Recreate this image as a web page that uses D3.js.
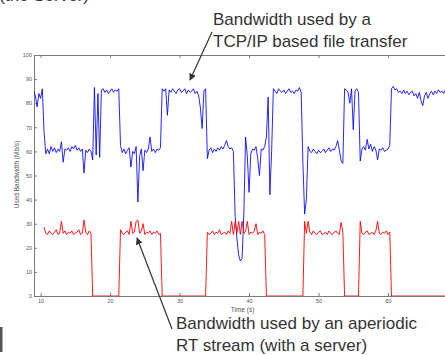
<!DOCTYPE html>
<html>
<head>
<meta charset="utf-8">
<script src="https://cdn.jsdelivr.net/npm/d3@7"></script>
<style>
  html, body { margin: 0; padding: 0; background: #fff; }
  svg { display: block; font-family: "Liberation Sans", Arial, sans-serif; }
</style>
</head>
<body>
<div id="chart"></div>
<script>
// sample spacing of the traces (seconds)
const blueStart = 9.0;
const redStart = 10.5;
const sampleStep = 0.25;

// TCP/IP file transfer bandwidth (Mb/s)
const tcpBandwidth = [
  85, 83, 78.5, 84, 82, 86, 68, 59,
  61, 59, 62, 60, 61.5, 59.5, 61, 60, 64, 55.5, 61, 60.5, 61.5, 60, 62, 61,
  62.5, 60.5, 61.5, 60, 61, 51, 60.5, 59.5, 61, 60, 56.5,
  86.5, 58.5, 84, 57.5, 85.5,
  86, 84.5, 85.5, 84, 85, 86, 84.5, 85.5, 85, 86,
  62.5, 59.5, 61, 59, 60.5, 61.5, 53.5, 60, 59, 62, 39, 58, 61, 52,
  60.5, 59.5, 61, 66, 60, 61, 59.5, 61, 60.5, 61.5,
  86, 85, 86, 75, 85.5, 84.5, 86, 85, 84, 85.5, 86, 84.5, 85, 86, 84, 85.5,
  84.5, 85, 86, 84, 85, 83, 78, 69.5, 85, 86,
  57, 60.5, 61.5, 59.5, 61, 60, 61.5, 60.5, 62, 61, 62.5, 64.5, 62, 61, 61.5, 60,
  33, 24, 17, 14.5, 15.5, 34, 66, 58, 43, 59, 61, 60.5, 62, 57, 50, 61,
  60.5, 62, 66, 82.5, 42, 60,
  86, 85, 84, 86, 85, 84.5, 85.5, 84, 85, 86, 84.5, 85, 84, 85.5, 85, 86.5, 84.5,
  55, 34, 40, 62, 60, 59.5, 61, 60, 59, 60.5, 59.5, 60, 61, 59.5, 60.5, 61.5,
  60, 61, 60.5, 62, 64.5, 60.5, 56, 55,
  86, 85.5, 84.5, 80, 86, 69, 85, 86, 84.5,
  56, 61, 62, 60.5, 65, 61, 63, 60, 62, 60.5, 56.5, 61, 60.5, 61.5, 60, 60.5, 61, 62.5,
  86, 87, 85.5, 86, 84.5, 85, 84, 85.5, 84, 85, 83.5, 84.5, 85, 83, 84, 82,
  84.5, 81, 79, 83, 84.5, 82, 84, 85, 83.5, 85, 84, 85.5, 84.5, 85, 84, 85.5, 85
];

// aperiodic RT stream bandwidth (Mb/s)
const rtBandwidth = [
  28.5, 26, 25.5, 27, 26, 25.5, 26.5, 27.5, 25.5, 26, 31, 26, 27, 25.5,
  26.5, 26, 27, 25.5, 26, 26.5, 27.5, 25.5, 26, 31.5, 26.5, 25.5, 27, 26,
  0, 0, 0, 0, 0, 0, 0, 0, 0, 0, 0, 0, 0, 0, 0, 0,
  27.5, 26, 25.5, 26.5, 27, 25.5, 31, 26, 26.5, 31, 31.5, 26,
  27, 30, 25.5, 26.5, 26, 27, 25.5, 26.5, 26, 27, 25.5, 26,
  0, 0, 0, 0, 0, 0, 0, 0, 0, 0, 0, 0, 0, 0, 0, 0, 0, 0, 0, 0, 0, 0, 0, 0, 0, 0,
  26.5, 25.5, 26, 27, 25.5, 26.5, 26, 27.5, 25.5, 26, 26.5, 25.5, 27, 26,
  31, 25.5, 31, 26, 31, 25.5, 31, 26,
  27, 31, 25.5, 26.5, 26, 27, 30, 25.5, 26.5, 26, 27, 25.5,
  0, 0, 0, 0, 0, 0, 0, 0, 0, 0, 0, 0, 0, 0, 0, 0, 0, 0, 0, 0, 0, 0,
  31, 26, 31, 26.5, 25.5, 27, 26, 25.5, 26.5, 27, 25.5, 26,
  26.5, 25.5, 27, 26, 25.5, 26.5, 27, 26, 25.5, 30.5, 26.5,
  0, 0, 0, 0, 0, 0, 0, 0, 0,
  31, 26, 25.5, 26.5, 27, 25.5, 26, 26.5, 25.5, 27, 31, 26, 25.5, 26.5, 26, 27, 25.5, 26.5,
  0, 0, 0, 0, 0, 0, 0, 0, 0, 0, 0, 0, 0, 0, 0, 0, 0, 0, 0, 0, 0, 0, 0,
  0, 0, 0, 0, 0, 0, 0, 0, 0, 0
];

const xTicks = [10, 20, 30, 40, 50, 60];
const yTicks = [0, 10, 20, 30, 40, 50, 60, 70, 80, 90, 100];

const width = 445, height = 355;
const plotLeft = 34, plotTop = 55, plotBottom = 296, plotRight = 457.5;

const svg = d3.select('#chart').append('svg')
  .attr('width', width)
  .attr('height', height);

const x = d3.scaleLinear().domain([9.05, 70]).range([plotLeft, plotRight]);
const y = d3.scaleLinear().domain([0, 100]).range([plotBottom, plotTop]);

svg.append('clipPath').attr('id', 'plot-clip')
  .append('rect')
  .attr('x', plotLeft).attr('y', plotTop)
  .attr('width', plotRight - plotLeft).attr('height', plotBottom - plotTop);

// axes, matlab style with inward ticks
const axisColor = '#7a7a7a';
const styleAxis = g => {
  g.selectAll('path').attr('stroke', axisColor).attr('stroke-width', 1);
  g.selectAll('line').attr('stroke', axisColor).attr('stroke-width', 1);
  g.selectAll('text').attr('fill', '#555').attr('font-size', 5.5);
};

svg.append('g')
  .attr('transform', `translate(0,${plotBottom})`)
  .call(d3.axisBottom(x).tickValues(xTicks).tickSize(-3).tickSizeOuter(0).tickPadding(3))
  .call(styleAxis);

svg.append('g')
  .attr('transform', `translate(0,${plotTop})`)
  .call(d3.axisTop(x).tickValues(xTicks).tickSize(-3).tickSizeOuter(0).tickFormat(''))
  .call(styleAxis);

svg.append('g')
  .attr('transform', `translate(${plotLeft},0)`)
  .call(d3.axisLeft(y).tickValues(yTicks).tickSize(-3).tickSizeOuter(0).tickPadding(2))
  .call(styleAxis);

// axis titles
svg.append('text')
  .attr('x', 242.5)
  .attr('y', 311.5)
  .attr('text-anchor', 'middle')
  .attr('font-size', 6.5)
  .attr('fill', '#555')
  .text('Time (s)');

svg.append('text')
  .attr('transform', `translate(19,${y(50) - 1}) rotate(-90)`)
  .attr('text-anchor', 'middle')
  .attr('font-size', 6.5)
  .attr('fill', '#555')
  .text('Used Bandwidth (Mb/s)');

// traces
const plot = svg.append('g').attr('clip-path', 'url(#plot-clip)');

const blueLine = d3.line()
  .x((d, i) => x(blueStart + i * sampleStep))
  .y(d => y(d));

const redLine = d3.line()
  .x((d, i) => x(redStart + i * sampleStep))
  .y(d => y(d));

plot.append('path')
  .datum(tcpBandwidth)
  .attr('d', blueLine)
  .attr('fill', 'none')
  .attr('stroke', '#0000ff')
  .attr('stroke-width', 0.85);

plot.append('path')
  .datum(rtBandwidth)
  .attr('d', redLine)
  .attr('fill', 'none')
  .attr('stroke', '#ff0000')
  .attr('stroke-width', 0.9);

// annotations
const noteColor = '#333';
const defs = svg.append('defs');
defs.append('marker')
  .attr('id', 'head')
  .attr('viewBox', '0 0 10 10')
  .attr('refX', 9).attr('refY', 5)
  .attr('markerWidth', 7).attr('markerHeight', 7)
  .attr('markerUnits', 'userSpaceOnUse')
  .attr('orient', 'auto')
  .append('path')
  .attr('d', 'M0,0 L10,5 L0,10 Z')
  .attr('fill', noteColor);

svg.append('line')
  .attr('x1', 212).attr('y1', 32)
  .attr('x2', 190).attr('y2', 80)
  .attr('stroke', noteColor).attr('stroke-width', 1.2)
  .attr('marker-end', 'url(#head)');

svg.append('line')
  .attr('x1', 172).attr('y1', 329)
  .attr('x2', 137).attr('y2', 238)
  .attr('stroke', noteColor).attr('stroke-width', 1.2)
  .attr('marker-end', 'url(#head)');

const note = (lines, x0, y0) => {
  lines.forEach((s, i) => {
    svg.append('text')
      .attr('x', x0).attr('y', y0 + i * 21.5)
      .attr('font-size', 17)
      .attr('fill', noteColor)
      .text(s);
  });
};
note(['Bandwidth used by a', 'TCP/IP based file transfer'], 213, 25);
note(['Bandwidth used by an aperiodic', 'RT stream (with a server)'], 176, 329);

// bits of the surrounding slide that show at the edges
svg.append('text')
  .attr('x', 89).attr('y', 1)
  .attr('text-anchor', 'end')
  .attr('font-size', 17)
  .attr('fill', noteColor)
  .text('(the Server)');

svg.append('rect')
  .attr('x', 0).attr('y', 327)
  .attr('width', 2.5).attr('height', 25)
  .attr('fill', '#555');
</script>
</body>
</html>
